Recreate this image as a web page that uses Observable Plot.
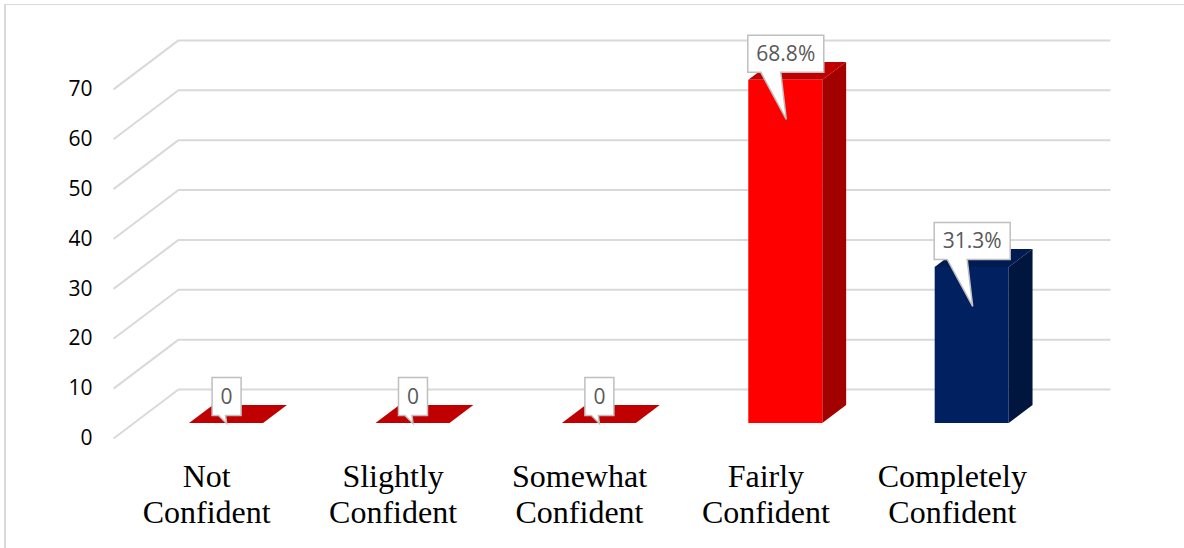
<!DOCTYPE html>
<html>
<head>
<meta charset="utf-8">
<script src="https://cdn.jsdelivr.net/npm/d3@7"></script>
<script src="https://cdn.jsdelivr.net/npm/@observablehq/plot@0.6"></script>
<style>
  html, body { margin: 0; padding: 0; background: #fff; }
  #chart { position: relative; width: 1184px; height: 548px; overflow: hidden; }
  #frame {
    position: absolute; left: 4px; top: 4px; width: 1300px; height: 700px;
    border-top: 1.5px solid #d9d9d9; border-left: 2px solid #d9d9d9;
  }
  #chart svg { position: absolute; left: 0; top: 0; }
</style>
</head>
<body>
<div id="chart"><div id="frame"></div></div>
<script>
// Survey responses: share of respondents per confidence level (%)
const categories = [
  "Not\nConfident",
  "Slightly\nConfident",
  "Somewhat\nConfident",
  "Fairly\nConfident",
  "Completely\nConfident"
];
const values = [0, 0, 0, 68.8, 31.3];
const valueLabels = ["0", "0", "0", "68.8%", "31.3%"];
const yTicks = [0, 10, 20, 30, 40, 50, 60, 70];

// Face shading for the two bar colours (front, top, side)
const palette = {
  red:  {front: "#ff0000", top: "#c00000", side: "#a30000"},
  navy: {front: "#002060", top: "#001b52", side: "#00163f"}
};
const barTone = ["red", "red", "red", "red", "navy"];

// Layout of the pseudo-3D box
const W = 1184, H = 548;
const ml = 113, mr = 139, mt = 39, mb = 110;
const yMax = 80;
const kx = (W - ml - mr) / categories.length;   // px per category slot
const ky = (H - mt - mb) / yMax;                // px per percentage point
const floorDX = 65 / kx, floorDY = 49 / ky;     // depth of the floor, in data units
const zFront = 0.306, zBack = 0.673;            // bar depth as a fraction of the floor
const halfW = 37 / kx;                          // half the bar width

// Gridlines: from the front edge diagonally to the back wall, then across
const grid = yTicks.flatMap(t => [
  {t, x: 0, y: t},
  {t, x: floorDX, y: t + floorDY},
  {t, x: categories.length + floorDX, y: t + floorDY}
]);

const bars = values.map((v, i) => {
  const xc = i + 0.5;
  const c = palette[barTone[i]];
  const xf = xc + zFront * floorDX, yf = zFront * floorDY;
  const xb = xc + zBack * floorDX, yb = zBack * floorDY;
  return {i, v, c, xc, xf, yf, xb, yb};
});

const sideFaces = bars.flatMap(b => [
  {key: b.i, fill: b.c.side, x: b.xf + halfW, y1: b.yf, y2: b.yf + b.v},
  {key: b.i, fill: b.c.side, x: b.xb + halfW, y1: b.yb, y2: b.yb + b.v}
]);
const topFaces = bars.flatMap(b => [
  {key: b.i, fill: b.c.top, y: b.yf + b.v, x1: b.xf - halfW, x2: b.xf + halfW},
  {key: b.i, fill: b.c.top, y: b.yb + b.v, x1: b.xb - halfW, x2: b.xb + halfW}
]);

const anchors = bars.map(b => ({label: valueLabels[b.i], x: b.xf, y: b.yf + b.v}));

// Speech-bubble outlines, drawn around each label anchor (pixel units)
function bubble(w, h, gap, tailL, tailR, tipX, tipY) {
  return {
    draw(ctx) {
      const top = -gap - h, bot = -gap;
      ctx.moveTo(-w / 2, top);
      ctx.lineTo(w / 2, top);
      ctx.lineTo(w / 2, bot);
      ctx.lineTo(tailR, bot);
      ctx.lineTo(tipX, tipY);
      ctx.lineTo(tailL, bot);
      ctx.lineTo(-w / 2, bot);
      ctx.closePath();
    }
  };
}
const wideBubble = bubble(76, 37, 8, -25, -5, 0.5, 39);
const narrowBubble = bubble(29, 38, 8, -8, -1, 0, 0);

const chart = Plot.plot({
  width: W,
  height: H,
  marginLeft: ml,
  marginRight: mr,
  marginTop: mt,
  marginBottom: mb,
  style: "font-family: 'Open Sans', sans-serif; font-size: 21px; color: #000; background: transparent; overflow: visible;",
  x: {domain: [0, categories.length], axis: null},
  y: {domain: [0, yMax], ticks: yTicks, tickSize: 0, tickPadding: 21, label: null, tickFormat: d => String(d)},
  color: {type: "identity"},
  marks: [
    Plot.line(grid, {x: "x", y: "y", z: "t", stroke: "#d9d9d9", strokeWidth: 2, strokeLinejoin: "miter", strokeLinecap: "butt"}),
    Plot.areaY(sideFaces, {x: "x", y1: "y1", y2: "y2", z: "key", fill: "fill"}),
    Plot.areaX(topFaces, {y: "y", x1: "x1", x2: "x2", z: "key", fill: "fill"}),
    Plot.rect(bars, {
      x1: b => b.xf - halfW, x2: b => b.xf + halfW,
      y1: "yf", y2: b => b.yf + b.v,
      fill: b => b.c.front
    }),
    Plot.dot(anchors.filter(a => a.label.length > 1), {
      x: "x", y: "y", symbol: wideBubble, r: 10,
      fill: "white", stroke: "#bfbfbf", strokeWidth: 1.5
    }),
    Plot.dot(anchors.filter(a => a.label.length <= 1), {
      x: "x", y: "y", symbol: narrowBubble, r: 10,
      fill: "white", stroke: "#bfbfbf", strokeWidth: 1.5
    }),
    Plot.text(anchors, {
      x: "x", y: "y", text: "label", dy: -26.5,
      fill: "#595959", fontSize: 21, fontFamily: "'Open Sans', sans-serif"
    }),
    Plot.text(bars, {
      x: "xc", y: () => 0, text: b => categories[b.i],
      dy: 21.9, lineAnchor: "top", lineHeight: 1.15,
      fill: "#000", fontSize: 32, fontFamily: "'Liberation Serif', 'Times New Roman', serif"
    })
  ]
});

document.getElementById("chart").appendChild(chart);
</script>
</body>
</html>
